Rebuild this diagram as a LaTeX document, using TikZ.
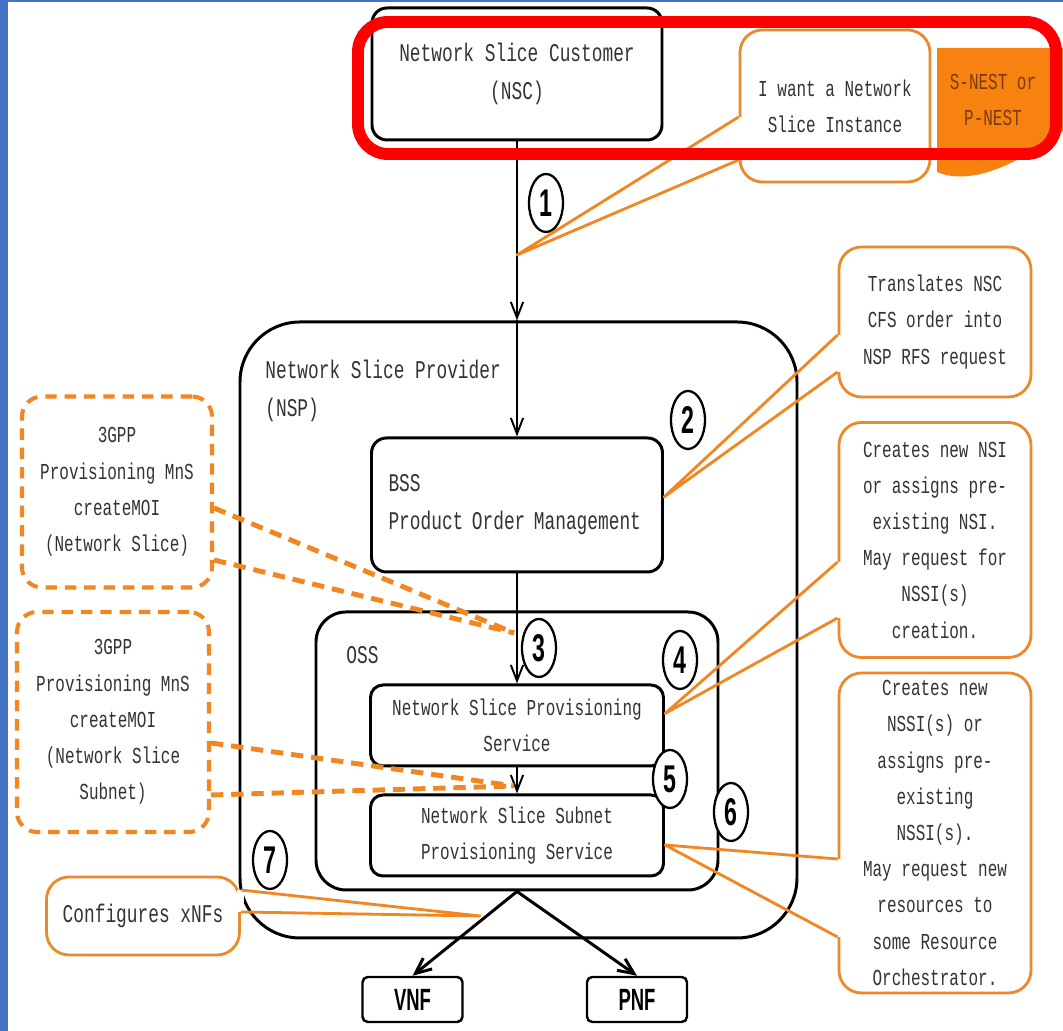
\documentclass[tikz,border=0pt]{standalone}
\usepackage{fontspec}
\usepackage{tikz}
\usetikzlibrary{arrows.meta,positioning,shapes.geometric,calc}

\newfontfamily\diagmono[FakeStretch=0.7]{Liberation Mono}
\newfontfamily\diagsans[FakeStretch=0.6]{Liberation Sans}
\newcommand\smallmono{\diagmono\fontsize{13pt}{20.6pt}\selectfont}
\newcommand\largemono{\diagmono\fontsize{14.5pt}{21.5pt}\selectfont}

\definecolor{FrameBlue}  {HTML}{4472C4}
\definecolor{MarkRed}    {HTML}{FF0000}
\definecolor{NoteOrange} {HTML}{EA8A2C}
\definecolor{TailOrange} {HTML}{F08722}
\definecolor{NestOrange} {HTML}{F7820F}
\definecolor{NestInk}    {HTML}{7A3B10}
\definecolor{Ink}        {HTML}{333333}

\tikzset{
  box/.style={rectangle,rounded corners=#1,draw=black,line width=1.7pt,
              fill=white,text=Ink,align=center},
  box/.default=0.3cm,
  note/.style={rectangle,rounded corners=0.45cm,draw=NoteOrange,line width=1.6pt,
               fill=white,text=Ink,align=center,font=\smallmono,inner sep=1pt,
               minimum width=3.84cm},
  dnote/.style={note,draw=TailOrange,line width=2.3pt,
                dash pattern=on 6.5pt off 4.5pt,rounded corners=0.4cm},
  num/.style={ellipse,draw=black,line width=1.3pt,fill=white,inner sep=0pt,
              minimum width=0.68cm,minimum height=1.16cm,
              font=\diagsans\bfseries\fontsize{22pt}{22pt}\selectfont},
  nf/.style={rectangle,rounded corners=3pt,draw=black,line width=1.4pt,
             fill=white,minimum width=2cm,minimum height=0.9cm,
             font=\diagsans\bfseries\fontsize{17.5pt}{17.5pt}\selectfont},
  flow/.style={-{Straight Barb[length=9pt,width=7pt]},line width=1.1pt},
  xflow/.style={-{Straight Barb[length=9pt,width=8pt]},line width=1.7pt},
  tail/.style={TailOrange,line width=1.6pt,line join=round},
  dtail/.style={TailOrange,line width=2.8pt,dash pattern=on 7pt off 4.5pt},
}

\begin{document}
\begin{tikzpicture}

  % canvas and frame
  \useasboundingbox (0,0) rectangle (21.26,20.62);
  \fill[white] (0,0) rectangle (21.26,20.62);
  \fill[FrameBlue] (0,0) rectangle (0.16,20.62);
  \fill[FrameBlue] (0,20.57) rectangle (21.26,20.62);

  % provider and its OSS
  \node[box=1.2cm,minimum width=11.14cm,minimum height=12.32cm] (nsp) at (10.37,8.02) {};
  \node[font=\largemono,text=Ink,align=left,anchor=west,inner sep=0pt]
    (nsplbl) at (5.3,12.8) {Network Slice Provider\\(NSP)};
  \node[box=0.6cm,minimum width=8.04cm,minimum height=5.56cm] (oss) at (10.34,5.6) {};
  \node[font=\largemono,text=Ink,anchor=west,inner sep=0pt] (osslbl) at (6.92,7.52) {OSS};

  % customer, order management and provisioning services
  \node[box,font=\largemono,minimum width=5.8cm,minimum height=2.64cm]
    (nsc) at (10.34,19.14) {Network Slice Customer\\(NSC)};
  \node[box,font=\largemono,align=left,text width=5.14cm,
        minimum width=5.82cm,minimum height=2.68cm]
    (bss) at (10.34,10.52) {BSS\\Product Order Management};
  \node[box=0.25cm,font=\smallmono,minimum width=5.86cm,minimum height=1.62cm]
    (nsps) at (10.34,6.11) {Network Slice Provisioning\\Service};
  \node[box=0.25cm,font=\smallmono,minimum width=5.86cm,minimum height=1.62cm]
    (nssps) at (10.34,3.91) {Network Slice Subnet\\Provisioning Service};
  \node[nf] (vnf) at (8.25,0.63) {VNF};
  \node[nf] (pnf) at (12.74,0.63) {PNF};

  % request flow
  \coordinate (nspin) at (nsc.south |- nsp.north);
  \draw[flow] (nsc.south) -- (nspin);
  \draw[flow] (nspin) -- (bss.north);
  \draw[flow] (bss.south) -- (nsps.north);
  \draw[flow] (nsps.south) -- (nssps.north);
  \draw[xflow] (oss.south) -- (vnf.north);
  \draw[xflow] (oss.south) -- (pnf.north);

  % step numbers
  \node[num] (n1) at (10.92,16.56) {1};
  \node[num] (n2) at (13.76,12.22) {2};
  \node[num] (n3) at (10.78,7.66)  {3};
  \node[num] (n4) at (13.6,7.42)   {4};
  \node[num] (n5) at (13.4,5.04)   {5};
  \node[num] (n6) at (14.62,4.38)  {6};
  \node[num] (n7) at (5.4,3.42)    {7};

  % notes
  \node[note,minimum width=3.8cm,minimum height=3.04cm]
    (want) at (16.7,18.5) {I want a Network\\Slice Instance};
  \node[note,minimum height=3.0cm]
    (xlate) at (18.7,14.18) {Translates NSC\\CFS order into\\NSP RFS request};
  \node[note,minimum height=4.7cm]
    (nsinote) at (18.7,9.82) {Creates new NSI\\or assigns pre-\\existing NSI.\\May request for\\NSSI(s)\\creation.};
  \node[note,minimum height=6.4cm]
    (nssinote) at (18.7,3.96) {Creates new\\NSSI(s) or\\assigns pre-\\existing\\NSSI(s).\\May request new\\resources to\\some Resource\\Orchestrator.};
  \node[note,font=\largemono,minimum width=3.86cm,minimum height=1.56cm]
    (xnf) at (2.86,2.3) {Configures xNFs};
  \node[dnote,minimum width=3.8cm,minimum height=3.82cm]
    (mnsns) at (2.34,10.78) {3GPP\\Provisioning MnS\\createMOI\\(Network Slice)};
  \node[dnote,minimum height=4.4cm]
    (mnsnss) at (2.26,6.18) {3GPP\\Provisioning MnS\\createMOI\\(Network Slice\\Subnet)};

  % note tails
  \coordinate (wanttip) at (10.34,15.52);
  \coordinate (xnftip) at (9.6,2.3);
  \coordinate (mnsnstip) at (10.28,7.96);
  \coordinate (mnsnsstip) at (10.28,4.9);

  \fill[white] ([xshift=-2pt,yshift=-0.22cm]want.west) rectangle ([xshift=2pt,yshift=-1.08cm]want.west);
  \draw[tail] ([yshift=-0.22cm]want.west) -- (wanttip) -- ([yshift=-1.08cm]want.west);

  \fill[white] ([xshift=-2pt,yshift=-0.26cm]xlate.west) rectangle ([xshift=2pt,yshift=-1.0cm]xlate.west);
  \draw[tail] ([yshift=-0.26cm]xlate.west) -- ([yshift=0.16cm]bss.east) -- ([yshift=-1.0cm]xlate.west);

  \fill[white] ([xshift=-2pt,yshift=-0.44cm]nsinote.west) rectangle ([xshift=2pt,yshift=-1.56cm]nsinote.west);
  \draw[tail] ([yshift=-0.44cm]nsinote.west) -- ([yshift=0.24cm]nsps.east) -- ([yshift=-1.56cm]nsinote.west);

  \fill[white] ([xshift=-2pt,yshift=-0.52cm]nssinote.west) rectangle ([xshift=2pt,yshift=-2.08cm]nssinote.west);
  \draw[tail] ([yshift=-0.52cm]nssinote.west) -- ([yshift=-0.19cm]nssps.east) -- ([yshift=-2.08cm]nssinote.west);

  \fill[white] ([xshift=-2pt,yshift=0.52cm]xnf.east) rectangle ([xshift=2pt,yshift=0.08cm]xnf.east);
  \draw[tail] ([yshift=0.52cm]xnf.east) -- (xnftip) -- ([yshift=0.08cm]xnf.east);

  \draw[dtail] ([yshift=-0.32cm]mnsns.east) -- (mnsnstip);
  \draw[dtail] ([yshift=-1.36cm]mnsns.east) -- (mnsnstip);
  \draw[dtail] ([yshift=-0.42cm]mnsnss.east) -- (mnsnsstip);
  \draw[dtail] ([yshift=-1.46cm]mnsnss.east) -- (mnsnsstip);

  % template tag
  \fill[NestOrange] (18.74,19.66) -- (21.26,19.66) -- (21.26,18.0)
    .. controls (20.3,17.3) and (19.4,16.9) .. (18.74,17.18) -- cycle;
  \node[font=\smallmono,text=NestInk,align=center] (snest) at (19.86,18.62) {S-NEST or\\P-NEST};

  % highlight
  \draw[MarkRed,line width=6.8pt,rounded corners=0.6cm] (7.16,20.18) rectangle (21.12,17.54);

\end{tikzpicture}
\end{document}
